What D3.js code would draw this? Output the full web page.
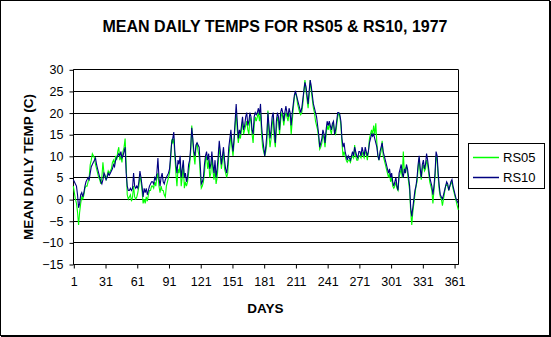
<!DOCTYPE html>
<html><head><meta charset="utf-8">
<script src="https://cdn.jsdelivr.net/npm/d3@7"></script>
<style>body{margin:0;background:#fff}svg{display:block}text{font-family:"Liberation Sans",Arial,sans-serif}</style>
</head><body>
<script>
const title = "MEAN DAILY TEMPS FOR RS05 & RS10, 1977";
const xTitle = "DAYS";
const yTitle = "MEAN DAILY TEMP (C)";
const seriesNames = ["RS05", "RS10"];
const xTicks = [1, 31, 61, 91, 121, 151, 181, 211, 241, 271, 301, 331, 361];
const yTicks = [-15, -10, -5, 0, 5, 10, 15, 20, 25, 30];

const rs10 = [
4.5,4,3.5,3,1,-2,-1,1,1.5,0.5,
1.5,3,4,4.5,5,4.5,6,7.5,8,8.5,
9,9.5,8,7,6,5,4,3.5,4.5,6,
5.5,4.5,5,6,5.5,6,6.5,7,8,7.5,
9,9.5,10,10.5,10,11,9.5,10,11,12,
6,3,2,2,2.5,2,2.5,6,3,2.5,
3,2.5,4,6.5,5,3,0.5,2.5,1.5,2.5,
1,2,3,3.5,4,4,3.5,5,4.5,6,
9.5,5,3,5,6,4,3.5,4.5,5,5.5,
6,7,10,13,14,15.5,11,8,6,9,
8,10,5,7,9,5,6,4,5,8,
9,12,16.5,14,11,10,12.5,13,12.5,12,
8,3.5,4,5,8,10,11,9,10.5,7,
8,11,8,6,9,5,7,10,13.5,11,
8,10,12,9,7,6,8,12,14,16,
13,11,14,18,22,18,14,16,15,17,
19,16,17,19,20,17,18,20,19,16,
15,19,20,19.5,20,21,19.5,22,17,14,
12,10,12,15,20,17,14,16,19,20,
16,13,18,20,19,16,20,21,20,18,
20,21.5,20,19,21,20,17,20,22,24,
25,24,23,22,21,20,21,23,25,27,
26,24,22,25,27.5,26,24,22,21,20,
19,17,15,12,13,14,16,15,13,16,
18,17,18,17,16,17.5,18,15,16,18,
20,20,19.5,18,14,12,13,11,10,9,
10,9.5,9,10,11,10,12,11,10,9.5,
11,11,10,12,11,10,12,11,10,11,
13,14,15,14.5,15,14,13,12,10,9,
11,12,13,11,10,9,8,7,6,7,
5,6,4,3,4,5,3,2,6,7,
8,6,5,7,6,8,7,5,3,-2,
-4,-2,0,2,3,5,8,10,7,5,
8,9,7,8,10.5,9,7,5,4,3,
1,3,6,11,10,6,3,1,0.5,0,
1,2,3,4,3.5,2,3,4,4.5,3,
2,1,0,-0.5,-1];

const rs05 = [
3,1.5,0,-1,-3,-6,-3,-1,0.5,0,
1,2.5,3,3,4,5,8,9,10.5,10,
9.5,8,7,6,5,4.5,3.5,5,8.5,6,
5,4.5,5.5,6.5,6,6.5,7,8.5,9,8,
10,9,11,12,9,10,8.5,11,12,14,
8,1,0,0.5,1,-0.5,0.5,3,0.5,0,
0.5,1.5,3,5.5,4,2,-1,0,-1,0.5,
-0.5,1,2,2,3,3,2.5,4,3,5,
6,3,1.5,3,2,2,1,0.5,3,4,
5,6,9,13.5,13,14,10,6,3,7,
6,8,3,5,8,2.5,4,3,4,6,
8,11,17,13,10,8,12,13,11,10,
6,2.5,3,4,6,9,10,7,9,5,
6,10,6.5,4.5,7,3.5,5,8,12,10,
7,9,11,7,6,5,6,10,12,15,
12,10,13,17,20,16,13,15,14,16,
18,15,16,17,18,16,15,19,18,15,
13,17,19,18,19,20,18,20,15,12,
11,10,11,13,20.5,15,12,14,17,19,
14,12,16,19,18,15,18,20,19,17,
19,20,19,18,20,19,15,18,21,23.5,
24.5,24,22,21,20,19.5,20,22,25,27.5,
25,23,21,24,27.5,25,23,21,20,18,
17,16,14,11.5,12,13,15,14,12,15,
17,16,17.5,16,15,17,17.5,15.5,15,17,
19,20,19,17,13,10,11,10,9,8.5,
9,9,8.5,9.5,10,9.5,12.5,10,9,9,
10,10,9.5,11,10,9.5,11,10.5,9,11,
14,15,16,15,17,15,17.5,13,10,9,
10,11,13.5,10,9,8,7,6,5,6,
4,5,3,2.5,3,4,2.5,2,5,6,
7,5,11,6,7,7.5,6,4,2,-3,
-6,-3,-1,1,3,4,7,9.5,6,4.5,
7,8,6.5,7,9,8,6,4,3,2,
-1,2,5,10,9,5,2,0.5,0,-1.5,
0,1.5,3,3.5,3,2,3,3.5,4,2.5,
1.5,0.5,-0.5,-1.5,-2.5];

const colors = ["#00ff00", "#000080"];
const W = 551, H = 337;
const plot = {l: 73.3, r: 458.3, t: 69.3, b: 264};

const svg = d3.select("body").append("svg").attr("width", W).attr("height", H);
svg.append("rect").attr("x", 0.5).attr("y", 0.5).attr("width", W - 2).attr("height", H - 2)
  .attr("fill", "#fff").attr("stroke", "#000").attr("stroke-width", 1);
svg.append("line").attr("x1", W - 1).attr("x2", W - 1).attr("y1", 1).attr("y2", H).attr("stroke", "#000").attr("stroke-width", 2);
svg.append("line").attr("x1", 1).attr("x2", W).attr("y1", H - 1).attr("y2", H - 1).attr("stroke", "#000").attr("stroke-width", 2);

const x = d3.scaleLinear().domain([1, 365]).range([plot.l, plot.r]);
const y = d3.scaleLinear().domain([-15, 30]).range([plot.b, plot.t]);

// gridlines
svg.append("g").selectAll("line").data(yTicks).join("line")
  .attr("x1", plot.l).attr("x2", plot.r)
  .attr("y1", d => Math.round(y(d)) + 0.5).attr("y2", d => Math.round(y(d)) + 0.5)
  .attr("stroke", "#000").attr("stroke-width", 1);
// right border
svg.append("line").attr("x1", Math.round(plot.r) + 0.5).attr("x2", Math.round(plot.r) + 0.5)
  .attr("y1", Math.round(plot.t) + 0.5).attr("y2", Math.round(plot.b) + 0.5).attr("stroke", "#000");

// axes
const yAxis = d3.axisLeft(y).tickValues(yTicks).tickSize(4).tickPadding(6).tickFormat(d3.format("d"));
const gy = svg.append("g").attr("transform", `translate(${Math.round(plot.l) + 0.5},0.5)`).call(yAxis);
const xAxis = d3.axisBottom(x).tickValues(xTicks).tickSize(4).tickPadding(9).tickFormat(d3.format("d"));
const gx = svg.append("g").attr("transform", `translate(0.5,${Math.round(plot.b) + 0.5})`).call(xAxis);
[gx, gy].forEach(g => {
  g.selectAll("path").attr("stroke", "#000").attr("stroke-width", 1);
  g.selectAll("line").attr("stroke", "#000");
  g.selectAll("text").attr("font-size", 12.5).attr("fill", "#000")
   .style("font-family", '"Liberation Sans",Arial,sans-serif');
});
gy.select(".domain").attr("d", `M0,${Math.round(plot.t)}V${Math.round(plot.b)}`);
gx.select(".domain").attr("d", `M${Math.round(plot.l)},0H${Math.round(plot.r)}`);

// lines
const line = d3.line().x((d, i) => x(i + 1)).y(d => y(d));
[rs05, rs10].forEach((s, k) => {
  svg.append("path").datum(s).attr("d", line).attr("fill", "none")
    .attr("stroke", colors[k]).attr("stroke-width", 1.1);
});

// titles
svg.append("text").attr("x", 275).attr("y", 32).attr("text-anchor", "middle")
  .attr("font-size", 16).attr("font-weight", "bold").text(title);
svg.append("text").attr("x", 265.5).attr("y", 313).attr("text-anchor", "middle")
  .attr("font-size", 13.5).attr("font-weight", "bold").text(xTitle);
svg.append("text").attr("transform", "translate(33,167) rotate(-90)").attr("text-anchor", "middle")
  .attr("font-size", 13.5).attr("font-weight", "bold").text(yTitle);

// legend
const lg = svg.append("g");
lg.append("rect").attr("x", 468.5).attr("y", 143.5).attr("width", 76).attr("height", 45)
  .attr("fill", "#fff").attr("stroke", "#000");
seriesNames.forEach((n, i) => {
  const yy = 157.5 + i * 20;
  lg.append("line").attr("x1", 473).attr("x2", 499).attr("y1", yy).attr("y2", yy)
    .attr("stroke", colors[i]).attr("stroke-width", 1.5);
  lg.append("text").attr("x", 503).attr("y", yy + 4.8).attr("font-size", 13).text(n);
});
</script>
</body></html>
